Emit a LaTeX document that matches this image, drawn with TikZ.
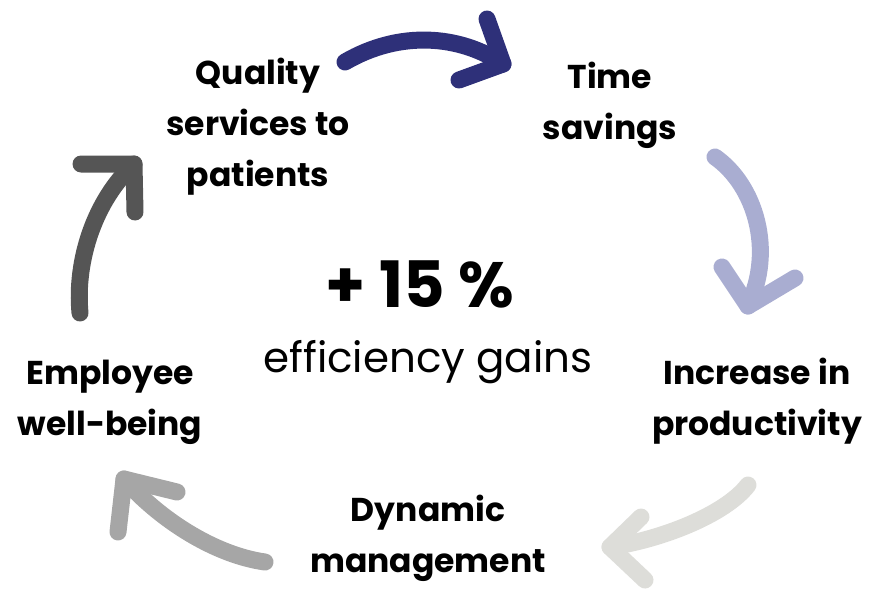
\documentclass[tikz,border=0pt]{standalone}
\usepackage{fontspec}
\setmainfont{Poppins}
\usetikzlibrary{positioning,calc}

\definecolor{navyarrow}{HTML}{2E3079}
\definecolor{bluearrow}{HTML}{A9ADD1}
\definecolor{palearrow}{HTML}{DDDDD9}
\definecolor{greyarrow}{HTML}{A6A6A6}
\definecolor{darkarrow}{HTML}{555555}

\tikzset{
  steplabel/.style={align=center, font=\fontsize{33}{51}\selectfont\bfseries},
  cyclearrow/.style={line width=17pt, line cap=round, line join=round}
}

\begin{document}
\begin{tikzpicture}[x=1pt, y=-1pt]

	% frame
	\useasboundingbox (0,0) rectangle (870,592);

	% labels
	\node[steplabel] (quality) at (258,127) {Quality\\services to\\patients};
	\node[steplabel] (time) at (610,105) {Time\\savings};
	\node[steplabel] (prod) at (757,401) {Increase in\\productivity};
	\node[steplabel] (dyn) at (428,538) {Dynamic\\management};
	\node[steplabel] (well) at (110,402) {Employee\\well-being};

	% centre
	\node[font=\fontsize{64}{70}\selectfont\bfseries] (gain) at (420,284) {+ 15 \%};
	\node[font=\fontsize{42}{48}\selectfont, below=26pt of gain, xshift=8pt] (eff) {efficiency gains};

	% arrow ends
	\coordinate (a1s) at (345,62);  \coordinate (a1t) at (503,64);
	\coordinate (a2s) at (715,157); \coordinate (a2t) at (748,306);
	\coordinate (a3s) at (748,485); \coordinate (a3t) at (610,547);
	\coordinate (a4s) at (265,562); \coordinate (a4t) at (124,479);
	\coordinate (a5s) at (80,313);  \coordinate (a5t) at (134,164);

	\newcommand{\cyclearrow}[7]{%
		\draw[cyclearrow, draw=#7] (#1) .. controls #2 and #3 .. (#4);
		\draw[cyclearrow, draw=#7] #5 -- (#4) -- #6;
	}

	% cycle
	\cyclearrow{a1s}{(400,30)}{(460,35)}{a1t}{(487,19)}{(459,80)}{navyarrow}
	\cyclearrow{a2s}{(755,185)}{(775,250)}{a2t}{(722,267)}{(795,278)}{bluearrow}
	\cyclearrow{a3s}{(725,515)}{(660,540)}{a3t}{(641,517)}{(645,580)}{palearrow}
	\cyclearrow{a4s}{(215,555)}{(160,520)}{a4t}{(177,492)}{(118,532)}{greyarrow}
	\cyclearrow{a5s}{(75,260)}{(95,200)}{a5t}{(81,164)}{(135,212)}{darkarrow}

\end{tikzpicture}
\end{document}
